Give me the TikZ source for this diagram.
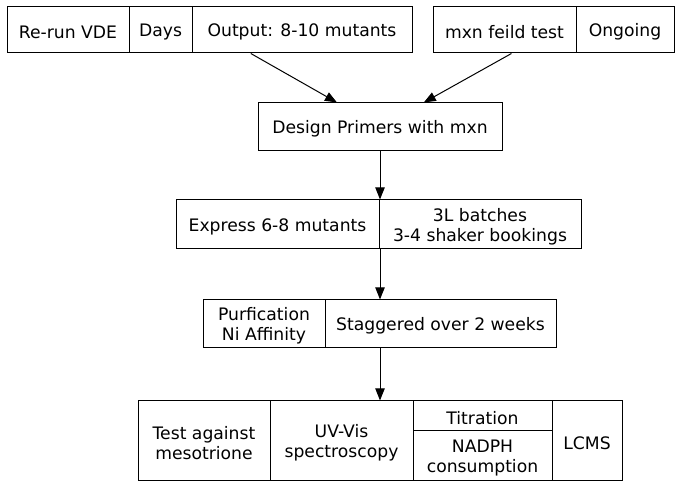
\documentclass[tikz,border=0pt]{standalone}
\usepackage{fontspec}
\setmainfont{DejaVu Sans}
\usetikzlibrary{fit,arrows.meta}
\tikzset{
  rec/.style={draw, line width=0.75pt, inner sep=0pt, rectangle},
  txt/.style={inner sep=0pt, align=center, yshift=-1.5pt, font=\fontsize{12.9pt}{15pt}\selectfont},
  dv/.style={line width=0.75pt},
  arr/.style={line width=0.75pt, -{Triangle[length=9pt, width=7pt]}}
}
\begin{document}
\begin{tikzpicture}[x=0.75pt, y=-0.75pt]
\useasboundingbox (0,0) rectangle (679,488);
% Record A
\node[rec, fit={(7,7) (412,53)}] (A) {};
\draw[dv] (129,7) -- (129,53);
\draw[dv] (192,7) -- (192,53);
\node[txt] (a1) at (68,30) {Re-run VDE};
\node[txt] (a2) at (160.5,30) {Days};
\node[txt] (a3) at (302,30) {Output: 8-10 mutants};
% Record B
\node[rec, fit={(433,7) (674,53)}] (B) {};
\draw[dv] (576,7) -- (576,53);
\node[txt] (b1) at (504.5,30) {mxn feild test};
\node[txt] (b2) at (625,30) {Ongoing};
% Record C
\node[rec, fit={(258,103) (502,151)}] (C) {};
\node[txt] (c1) at (380,127) {Design Primers with mxn};
% Record D
\node[rec, fit={(176,200) (581,249)}] (D) {};
\draw[dv] (379,200) -- (379,249);
\node[txt] (d1) at (277.5,225) {Express 6-8 mutants};
\node[txt] (d2) at (480,225) {3L batches\\3-4 shaker bookings};
% Record E
\node[rec, fit={(203,300) (556,348)}] (E) {};
\draw[dv] (325,300) -- (325,348);
\node[txt] (e1) at (264,324) {Purfication\\Ni Affinity};
\node[txt] (e2) at (440.5,324) {Staggered over 2 weeks};
% Record F
\node[rec, fit={(138,401) (622,481)}] (F) {};
\draw[dv] (270,401) -- (270,481);
\draw[dv] (413,401) -- (413,481);
\draw[dv] (552,401) -- (552,481);
\draw[dv] (413,431) -- (552,431);
\node[txt] (f1) at (204,441) {Test against\\mesotrione};
\node[txt] (f2) at (341.5,441) {UV-Vis\\spectroscopy};
\node[txt] (f3) at (482.5,416) {Titration};
\node[txt] (f4) at (482.5,456) {NADPH\\consumption};
\node[txt] (f5) at (587,441) {LCMS};
% connectors
\draw[arr] (A) -- (C);
\draw[arr] (B) -- (C);
\draw[arr] (C.south) -- (C.south |- D.north);
\draw[arr] (C.south |- D.south) -- (C.south |- E.north);
\draw[arr] (C.south |- E.south) -- (C.south |- F.north);
\end{tikzpicture}
\end{document}
